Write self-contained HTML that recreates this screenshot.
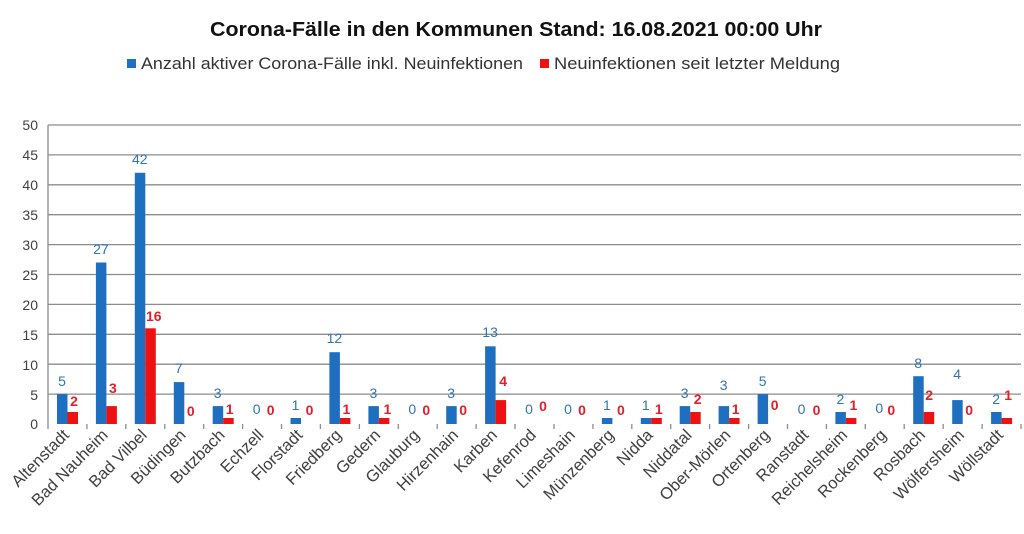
<!DOCTYPE html>
<html><head><meta charset="utf-8"><style>
body{margin:0;background:#fff;}
svg{display:block;font-family:"Liberation Sans",sans-serif;}
.yl{font-size:14px;fill:#404040;text-anchor:end;}
.cl{font-size:16.5px;fill:#404040;text-anchor:end;}
.bl{font-size:14px;fill:#2e75b6;text-anchor:middle;}
.rl{font-size:14px;fill:#e0202a;text-anchor:middle;font-weight:bold;}
</style></head><body>
<svg width="1024" height="534" viewBox="0 0 1024 534">
<rect width="1024" height="534" fill="#fff"/>
<text x="210" y="36" textLength="612" lengthAdjust="spacingAndGlyphs" font-size="20" font-weight="bold" fill="#111">Corona-Fälle in den Kommunen Stand: 16.08.2021 00:00 Uhr</text>
<rect x="127" y="59" width="9" height="9" fill="#1f6fc0"/>
<text x="141" y="69" textLength="382" lengthAdjust="spacingAndGlyphs" font-size="16.5" fill="#333">Anzahl aktiver Corona-Fälle inkl. Neuinfektionen</text>
<rect x="540" y="59" width="9" height="9" fill="#ee1111"/>
<text x="554" y="69" textLength="286" lengthAdjust="spacingAndGlyphs" font-size="16.5" fill="#333">Neuinfektionen seit letzter Meldung</text>
<g stroke="#8c8c8c" stroke-width="1.3">
<line x1="48" x2="1021" y1="125" y2="125"/><line x1="48" x2="1021" y1="154.9" y2="154.9"/>
<line x1="48" x2="1021" y1="184.8" y2="184.8"/><line x1="48" x2="1021" y1="214.7" y2="214.7"/>
<line x1="48" x2="1021" y1="244.6" y2="244.6"/><line x1="48" x2="1021" y1="274.5" y2="274.5"/>
<line x1="48" x2="1021" y1="304.4" y2="304.4"/><line x1="48" x2="1021" y1="334.3" y2="334.3"/>
<line x1="48" x2="1021" y1="364.2" y2="364.2"/><line x1="48" x2="1021" y1="394.1" y2="394.1"/>
<line x1="48" x2="48" y1="125" y2="429"/>
</g>
<g>
<text class="yl" x="38" y="130">50</text><text class="yl" x="38" y="160">45</text><text class="yl" x="38" y="190">40</text><text class="yl" x="38" y="220">35</text><text class="yl" x="38" y="250">30</text><text class="yl" x="38" y="280">25</text><text class="yl" x="38" y="310">20</text><text class="yl" x="38" y="340">15</text><text class="yl" x="38" y="370">10</text><text class="yl" x="38" y="400">5</text><text class="yl" x="38" y="429">0</text>
</g>
<g stroke="#8c8c8c" stroke-width="1.3">
<line x1="86.9" x2="86.9" y1="424" y2="429"/><line x1="125.8" x2="125.8" y1="424" y2="429"/><line x1="164.8" x2="164.8" y1="424" y2="429"/><line x1="203.7" x2="203.7" y1="424" y2="429"/><line x1="242.6" x2="242.6" y1="424" y2="429"/><line x1="281.5" x2="281.5" y1="424" y2="429"/><line x1="320.4" x2="320.4" y1="424" y2="429"/><line x1="359.4" x2="359.4" y1="424" y2="429"/><line x1="398.3" x2="398.3" y1="424" y2="429"/><line x1="437.2" x2="437.2" y1="424" y2="429"/><line x1="476.1" x2="476.1" y1="424" y2="429"/><line x1="515" x2="515" y1="424" y2="429"/><line x1="554" x2="554" y1="424" y2="429"/><line x1="592.9" x2="592.9" y1="424" y2="429"/><line x1="631.8" x2="631.8" y1="424" y2="429"/><line x1="670.7" x2="670.7" y1="424" y2="429"/><line x1="709.6" x2="709.6" y1="424" y2="429"/><line x1="748.6" x2="748.6" y1="424" y2="429"/><line x1="787.5" x2="787.5" y1="424" y2="429"/><line x1="826.4" x2="826.4" y1="424" y2="429"/><line x1="865.3" x2="865.3" y1="424" y2="429"/><line x1="904.2" x2="904.2" y1="424" y2="429"/><line x1="943.2" x2="943.2" y1="424" y2="429"/><line x1="982.1" x2="982.1" y1="424" y2="429"/><line x1="1021" x2="1021" y1="424" y2="429"/>
</g>

<g transform="translate(48,0)"><rect x="9" y="394.1" width="10.5" height="29.9" fill="#1f6fc0"/><rect x="19.5" y="412" width="10.5" height="12" fill="#ee1111"/><text class="bl" x="14" y="386">5</text><text class="rl" x="26" y="406">2</text><text class="cl" transform="translate(22,436) rotate(-45)">Altenstadt</text></g>
<g transform="translate(86.9,0)"><rect x="9" y="262.5" width="10.5" height="161.5" fill="#1f6fc0"/><rect x="19.5" y="406.1" width="10.5" height="17.9" fill="#ee1111"/><text class="bl" x="14" y="254">27</text><text class="rl" x="26" y="393">3</text><text class="cl" transform="translate(22,436) rotate(-45)">Bad Nauheim</text></g>
<g transform="translate(125.8,0)"><rect x="9" y="172.8" width="10.5" height="251.2" fill="#1f6fc0"/><rect x="19.5" y="328.3" width="10.5" height="95.7" fill="#ee1111"/><text class="bl" x="14" y="164">42</text><text class="rl" x="28" y="321">16</text><text class="cl" transform="translate(22,436) rotate(-45)">Bad Vilbel</text></g>
<g transform="translate(164.8,0)"><rect x="9" y="382.1" width="10.5" height="41.9" fill="#1f6fc0"/><text class="bl" x="14" y="373">7</text><text class="rl" x="26" y="416">0</text><text class="cl" transform="translate(22,436) rotate(-45)">Büdingen</text></g>
<g transform="translate(203.7,0)"><rect x="9" y="406.1" width="10.5" height="17.9" fill="#1f6fc0"/><rect x="19.5" y="418" width="10.5" height="6" fill="#ee1111"/><text class="bl" x="14" y="398">3</text><text class="rl" x="26" y="414">1</text><text class="cl" transform="translate(22,436) rotate(-45)">Butzbach</text></g>
<g transform="translate(242.6,0)"><text class="bl" x="14" y="414">0</text><text class="rl" x="28" y="415">0</text><text class="cl" transform="translate(22,436) rotate(-45)">Echzell</text></g>
<g transform="translate(281.5,0)"><rect x="9" y="418" width="10.5" height="6" fill="#1f6fc0"/><text class="bl" x="14" y="410">1</text><text class="rl" x="28" y="415">0</text><text class="cl" transform="translate(22,436) rotate(-45)">Florstadt</text></g>
<g transform="translate(320.4,0)"><rect x="9" y="352.2" width="10.5" height="71.8" fill="#1f6fc0"/><rect x="19.5" y="418" width="10.5" height="6" fill="#ee1111"/><text class="bl" x="14" y="343">12</text><text class="rl" x="26" y="414">1</text><text class="cl" transform="translate(22,436) rotate(-45)">Friedberg</text></g>
<g transform="translate(359.4,0)"><rect x="9" y="406.1" width="10.5" height="17.9" fill="#1f6fc0"/><rect x="19.5" y="418" width="10.5" height="6" fill="#ee1111"/><text class="bl" x="14" y="398">3</text><text class="rl" x="28" y="414">1</text><text class="cl" transform="translate(22,436) rotate(-45)">Gedern</text></g>
<g transform="translate(398.3,0)"><text class="bl" x="14" y="414">0</text><text class="rl" x="28" y="415">0</text><text class="cl" transform="translate(22,436) rotate(-45)">Glauburg</text></g>
<g transform="translate(437.2,0)"><rect x="9" y="406.1" width="10.5" height="17.9" fill="#1f6fc0"/><text class="bl" x="14" y="398">3</text><text class="rl" x="26" y="415">0</text><text class="cl" transform="translate(22,436) rotate(-45)">Hirzenhain</text></g>
<g transform="translate(476.1,0)"><rect x="9" y="346.3" width="10.5" height="77.7" fill="#1f6fc0"/><rect x="19.5" y="400.1" width="10.5" height="23.9" fill="#ee1111"/><text class="bl" x="14" y="337">13</text><text class="rl" x="27" y="386">4</text><text class="cl" transform="translate(22,436) rotate(-45)">Karben</text></g>
<g transform="translate(515,0)"><text class="bl" x="14" y="414">0</text><text class="rl" x="28" y="411">0</text><text class="cl" transform="translate(22,436) rotate(-45)">Kefenrod</text></g>
<g transform="translate(554,0)"><text class="bl" x="14" y="414">0</text><text class="rl" x="28" y="415">0</text><text class="cl" transform="translate(22,436) rotate(-45)">Limeshain</text></g>
<g transform="translate(592.9,0)"><rect x="9" y="418" width="10.5" height="6" fill="#1f6fc0"/><text class="bl" x="14" y="410">1</text><text class="rl" x="28" y="415">0</text><text class="cl" transform="translate(22,436) rotate(-45)">Münzenberg</text></g>
<g transform="translate(631.8,0)"><rect x="9" y="418" width="10.5" height="6" fill="#1f6fc0"/><rect x="19.5" y="418" width="10.5" height="6" fill="#ee1111"/><text class="bl" x="14" y="410">1</text><text class="rl" x="27" y="414">1</text><text class="cl" transform="translate(22,436) rotate(-45)">Nidda</text></g>
<g transform="translate(670.7,0)"><rect x="9" y="406.1" width="10.5" height="17.9" fill="#1f6fc0"/><rect x="19.5" y="412" width="10.5" height="12" fill="#ee1111"/><text class="bl" x="14" y="398">3</text><text class="rl" x="27" y="404">2</text><text class="cl" transform="translate(22,436) rotate(-45)">Niddatal</text></g>
<g transform="translate(709.6,0)"><rect x="9" y="406.1" width="10.5" height="17.9" fill="#1f6fc0"/><rect x="19.5" y="418" width="10.5" height="6" fill="#ee1111"/><text class="bl" x="14" y="390">3</text><text class="rl" x="26" y="414">1</text><text class="cl" transform="translate(22,436) rotate(-45)">Ober-Mörlen</text></g>
<g transform="translate(748.6,0)"><rect x="9" y="394.1" width="10.5" height="29.9" fill="#1f6fc0"/><text class="bl" x="14" y="386">5</text><text class="rl" x="26" y="410">0</text><text class="cl" transform="translate(22,436) rotate(-45)">Ortenberg</text></g>
<g transform="translate(787.5,0)"><text class="bl" x="14" y="414">0</text><text class="rl" x="29" y="415">0</text><text class="cl" transform="translate(22,436) rotate(-45)">Ranstadt</text></g>
<g transform="translate(826.4,0)"><rect x="9" y="412" width="10.5" height="12" fill="#1f6fc0"/><rect x="19.5" y="418" width="10.5" height="6" fill="#ee1111"/><text class="bl" x="14" y="404">2</text><text class="rl" x="27" y="410">1</text><text class="cl" transform="translate(22,436) rotate(-45)">Reichelsheim</text></g>
<g transform="translate(865.3,0)"><text class="bl" x="14" y="413">0</text><text class="rl" x="26" y="415">0</text><text class="cl" transform="translate(22,436) rotate(-45)">Rockenberg</text></g>
<g transform="translate(904.2,0)"><rect x="9" y="376.2" width="10.5" height="47.8" fill="#1f6fc0"/><rect x="19.5" y="412" width="10.5" height="12" fill="#ee1111"/><text class="bl" x="14" y="368">8</text><text class="rl" x="25" y="400">2</text><text class="cl" transform="translate(22,436) rotate(-45)">Rosbach</text></g>
<g transform="translate(943.2,0)"><rect x="9" y="400.1" width="10.5" height="23.9" fill="#1f6fc0"/><text class="bl" x="14" y="379">4</text><text class="rl" x="26" y="415">0</text><text class="cl" transform="translate(22,436) rotate(-45)">Wölfersheim</text></g>
<g transform="translate(982.1,0)"><rect x="9" y="412" width="10.5" height="12" fill="#1f6fc0"/><rect x="19.5" y="418" width="10.5" height="6" fill="#ee1111"/><text class="bl" x="14" y="404">2</text><text class="rl" x="26" y="400">1</text><text class="cl" transform="translate(22,436) rotate(-45)">Wöllstadt</text></g>
</svg>
</body></html>
